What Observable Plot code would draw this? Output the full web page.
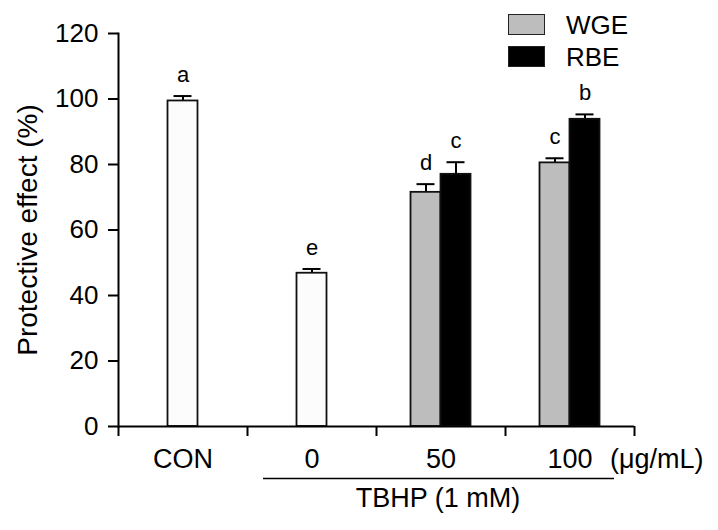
<!DOCTYPE html>
<html>
<head>
<meta charset="utf-8">
<script src="https://cdn.jsdelivr.net/npm/d3@7"></script>
<script src="https://cdn.jsdelivr.net/npm/@observablehq/plot@0.6"></script>
<style>
  html, body { margin: 0; padding: 0; background: #fff; }
  #wrap { position: relative; width: 718px; height: 530px; font-family: "Liberation Sans", Arial, sans-serif; }
  .sw { position: absolute; width: 37px; height: 21px; box-sizing: border-box; border: 1.5px solid #222; }
  .lt { position: absolute; font-size: 26px; line-height: 26px; color: #000; }
</style>
</head>
<body>
<div id="wrap"></div>
<script>
// ---- data ----
const groups = ["CON", "0", "50", "100"];
const barGroup = ["CON", "0", "50", "50", "100", "100"];
const barSeries = ["CON", "TBHP", "WGE", "RBE", "WGE", "RBE"];
const barValue = [99.4, 46.8, 71.5, 77.0, 80.5, 93.8];
const barError = [1.5, 1.3, 2.5, 3.7, 1.4, 1.5];
const sigLetters = ["a", "e", "d", "c", "c", "b"];
const yTicks = [0, 20, 40, 60, 80, 100, 120];
const legendSeries = ["WGE", "RBE"];
const unitLabel = "(\u03bcg/mL)";
const treatmentLabel = "TBHP (1 mM)";
const yLabel = "Protective effect (%)";

// ---- styles ----
const fills = {CON: "#fcfcfc", TBHP: "#fcfcfc", WGE: "#bdbdbd", RBE: "#000000"};
const offsets = {CON: 0, TBHP: 0, WGE: -15, RBE: 15};
const font = "'Liberation Sans', Arial, sans-serif";

const rows = barValue.map((v, i) => ({group: barGroup[i], series: barSeries[i], value: v, err: barError[i], top: v + barError[i], letter: sigLetters[i]}));

const W = 718, H = 530, mL = 118, mR = 84, mT = 33, mB = 104;
const bw = (W - mL - mR) / groups.length;
const barW = 30, capW = 18;
const pxPerUnit = (H - mT - mB) / 120;
const tickLenUnits = 10 / pxPerUnit;

const marks = [];
for (const s of Object.keys(offsets)) {
  const d = rows.filter(r => r.series === s);
  if (!d.length) continue;
  const dx = offsets[s];
  marks.push(
    Plot.ruleX(d, {x: "group", y1: "value", y2: "top", dx, stroke: "#000", strokeWidth: 2}),
    Plot.tickY(d, {x: "group", y: "top", dx, stroke: "#000", strokeWidth: 2, insetLeft: (bw - capW) / 2, insetRight: (bw - capW) / 2}),
    Plot.barY(d, {x: "group", y: "value", dx, fill: fills[s], stroke: "#111", strokeWidth: 1.8, insetLeft: (bw - barW) / 2, insetRight: (bw - barW) / 2}),
    Plot.text(d, {x: "group", y: "top", text: "letter", dx, dy: -14, lineAnchor: "bottom", fontSize: 22, fill: "#000"})
  );
}

const chart = Plot.plot({
  width: W, height: H,
  marginLeft: mL, marginRight: mR, marginTop: mT, marginBottom: mB,
  style: {fontFamily: font, background: "#fff", color: "#000"},
  x: {type: "band", domain: groups, paddingInner: 0, paddingOuter: 0, axis: null},
  y: {domain: [0, 120], axis: null},
  marks: [
    ...marks,
    Plot.axisY(yTicks, {tickSize: 10, tickPadding: 10, fontSize: 26, strokeWidth: 2, label: null}),
    Plot.text([yLabel], {frameAnchor: "left", text: d => d, rotate: -90, dx: -90, textAnchor: "middle", lineAnchor: "middle", fontSize: 28, fill: "#000"}),
    Plot.frame({anchor: "left", stroke: "#000", strokeWidth: 2}),
    Plot.ruleY([0], {stroke: "#000", strokeWidth: 2}),
    Plot.axisX(groups, {tickSize: 0, tickPadding: 22, fontSize: 27, label: null}),
    // boundary ticks at band edges
    Plot.ruleX(groups, {x: d => d, y1: 0, y2: -tickLenUnits, dx: -bw / 2, stroke: "#000", strokeWidth: 2}),
    Plot.ruleX(groups.slice(-1), {x: d => d, y1: 0, y2: -tickLenUnits, dx: bw / 2, stroke: "#000", strokeWidth: 2}),
    Plot.text([unitLabel], {x: groups.slice(-1), y: [0], text: d => d, textAnchor: "start", lineAnchor: "top", dx: 40, dy: 22, fontSize: 27}),
    Plot.ruleY([0], {x1: ["0"], x2: ["100"], dy: 52, insetLeft: 16, insetRight: 20, stroke: "#000", strokeWidth: 1.5}),
    Plot.text([treatmentLabel], {x: ["50"], y: [0], text: d => d, lineAnchor: "top", dx: -3, dy: 61, fontSize: 27})
  ]
});

const wrap = document.getElementById("wrap");
wrap.appendChild(chart);

// legend (HTML overlay)
legendSeries.forEach((s, i) => {
  const sw = document.createElement("div");
  sw.className = "sw";
  sw.style.left = "508px";
  sw.style.top = (14 + i * 32) + "px";
  sw.style.background = fills[s];
  wrap.appendChild(sw);
  const t = document.createElement("div");
  t.className = "lt";
  t.style.left = "566px";
  t.style.top = (12 + i * 32) + "px";
  t.textContent = s;
  wrap.appendChild(t);
});
</script>
</body>
</html>
